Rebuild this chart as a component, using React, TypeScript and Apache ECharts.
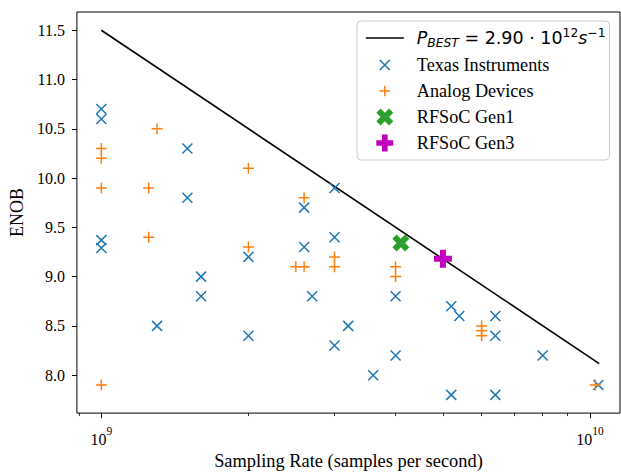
import React, { useEffect, useRef } from 'react';
import * as echarts from 'echarts';

const SERIF = '"Liberation Serif", "Times New Roman", serif';
const MATH = '"DejaVu Sans", sans-serif';

const LINE_NAME = 'P_BEST = 2.90·10^12 s^-1';
const TI_NAME = 'Texas Instruments';
const AD_NAME = 'Analog Devices';
const GEN1_NAME = 'RFSoC Gen1';
const GEN3_NAME = 'RFSoC Gen3';

// Best-performance line end points (sampling rate, ENOB)
const bestLineX = [1e9, 1.044e10];
const bestLineY = [11.5, 8.117];

// Texas Instruments
const tiX = [1e9, 1e9, 1e9, 1e9, 1.3e9, 1.5e9, 1.5e9, 1.6e9, 1.6e9, 2e9, 2e9, 2.6e9, 2.6e9, 2.7e9, 3e9, 3e9, 3e9, 3.2e9, 3.6e9, 4e9, 4e9, 5.2e9, 5.2e9, 5.4e9, 6.4e9, 6.4e9, 6.4e9, 8e9, 1.04e10];
const tiY = [10.7, 10.6, 9.37, 9.29, 8.5, 10.3, 9.8, 9.0, 8.8, 9.2, 8.4, 9.7, 9.3, 8.8, 9.9, 9.4, 8.3, 8.5, 8.0, 8.8, 8.2, 8.7, 7.8, 8.6, 8.6, 8.4, 7.8, 8.2, 7.9];

// Analog Devices
const adX = [1e9, 1e9, 1e9, 1e9, 1.25e9, 1.25e9, 1.3e9, 2e9, 2e9, 2.5e9, 2.6e9, 2.6e9, 3e9, 3e9, 4e9, 4e9, 6e9, 6e9, 6e9, 1.025e10];
const adY = [10.3, 10.2, 9.9, 7.9, 9.9, 9.4, 10.5, 10.1, 9.3, 9.1, 9.8, 9.1, 9.2, 9.1, 9.1, 9.0, 8.5, 8.45, 8.4, 7.9];

// RFSoC
const gen1X = [4.1e9];
const gen1Y = [9.34];
const gen3X = [5.0e9];
const gen3Y = [9.18];

// Axes
const X_MIN = 8.913e8;
const X_MAX = 1.1515e10;
const Y_MIN = 7.615;
const Y_MAX = 11.685;
const xMajorTicks = [1e9, 1e10];
const yTicks = [8.0, 8.5, 9.0, 9.5, 10.0, 10.5, 11.0, 11.5];

const X_PATH = 'path://M0,0L10,10M10,0L0,10';
const PLUS_PATH = 'path://M5,0L5,10M0,5L10,5';
const LINE_LEG_PATH = 'path://M0,-8.5M0,0L38,0M38,8.5';
const X_LEG_PATH = 'path://M-3.5,-3.5M0,0L10,10M10,0L0,10M13.5,13.5';
const PLUS_LEG_PATH = 'path://M-3,-3M5,0L5,10M0,5L10,5M13,13';
const X_FILLED = 'path://M-1,-2L0,-1L1,-2L2,-1L1,0L2,1L1,2L0,1L-1,2L-2,1L-1,0L-2,-1Z';
const P_FILLED = 'path://M-1,-3L1,-3L1,-1L3,-1L3,1L1,1L1,3L-1,3L-1,1L-3,1L-3,-1L-1,-1Z';

const TI_COLOR = '#1f77b4';
const AD_COLOR = '#ff7f0e';
const GEN1_COLOR = '#2ca02c';
const GEN3_COLOR = '#bf00bf';

const zip = (xs: number[], ys: number[]) => xs.map((x, i) => [x, ys[i]]);

export default function App() {
  const ref = useRef<HTMLDivElement>(null);
  useEffect(() => {
    if (!ref.current) return;
    const chart = echarts.init(ref.current, null, { renderer: 'svg' });
    const tickLine = { color: '#000', width: 1 };
    chart.setOption({
      animation: false,
      grid: {
        left: 76, right: 1, top: 12, bottom: 56,
        show: true, borderColor: '#000', borderWidth: 1, backgroundColor: 'transparent',
      },
      xAxis: {
        type: 'log', logBase: 10, min: X_MIN, max: X_MAX,
        name: 'Sampling Rate (samples per second)', nameLocation: 'middle', nameGap: 37,
        nameTextStyle: { fontFamily: SERIF, fontSize: 18.4, color: '#000' },
        axisLine: { show: false },
        axisTick: { show: true, length: 5, lineStyle: tickLine, customValues: xMajorTicks },
        minorTick: { show: true, splitNumber: 9, length: 3, lineStyle: { color: '#000', width: 0.8 } },
        axisLabel: {
          customValues: xMajorTicks, margin: 12,
          formatter: (v: number) => `{b|10}{s|${Math.round(Math.log10(v))}}`,
          rich: {
            b: { fontFamily: SERIF, fontSize: 16, color: '#000', lineHeight: 22, verticalAlign: 'bottom' },
            s: { fontFamily: SERIF, fontSize: 11.5, color: '#000', lineHeight: 12, verticalAlign: 'top' },
          },
        },
        splitLine: { show: false },
        minorSplitLine: { show: false },
      },
      yAxis: {
        type: 'value', min: Y_MIN, max: Y_MAX,
        name: 'ENOB', nameLocation: 'middle', nameGap: 49, nameRotate: 90,
        nameTextStyle: { fontFamily: SERIF, fontSize: 18, color: '#000' },
        axisLine: { show: false },
        axisTick: { show: true, length: 5, lineStyle: tickLine, customValues: yTicks },
        axisLabel: {
          customValues: yTicks, margin: 12,
          formatter: (v: number) => v.toFixed(1),
          fontFamily: SERIF, fontSize: 16, color: '#000',
        },
        splitLine: { show: false },
      },
      legend: {
        orient: 'vertical', left: 357, top: 21,
        padding: [6, 4, 7, 8], itemGap: 6, itemWidth: 38, itemHeight: 17,
        backgroundColor: 'rgba(255,255,255,0.8)', borderColor: '#cccccc', borderWidth: 1, borderRadius: 4,
        selectedMode: false,
        textStyle: {
          fontFamily: SERIF, fontSize: 18.2, color: '#000', lineHeight: 20, padding: [0, 0, 0, 8],
          rich: {
            i: { fontFamily: MATH, fontStyle: 'italic', fontSize: 17.5, lineHeight: 22, color: '#000' },
            m: { fontFamily: MATH, fontSize: 17.5, lineHeight: 22, color: '#000' },
            sub: { fontFamily: MATH, fontStyle: 'italic', fontSize: 12.3, lineHeight: 12, verticalAlign: 'bottom', color: '#000' },
            sup: { fontFamily: MATH, fontSize: 12.3, lineHeight: 12, verticalAlign: 'top', color: '#000' },
          },
        },
        formatter: (name: string) =>
          name === LINE_NAME ? '{i|P}{sub|BEST}{m| = 2.90 · 10}{sup|12}{i|s}{sup|−1}' : name,
        data: [
          { name: LINE_NAME, icon: LINE_LEG_PATH, itemStyle: { color: 'transparent', borderColor: '#000', borderWidth: 1.6 } },
          { name: TI_NAME, icon: X_LEG_PATH, itemStyle: { color: 'transparent', borderColor: TI_COLOR, borderWidth: 1.5 } },
          { name: AD_NAME, icon: PLUS_LEG_PATH, itemStyle: { color: 'transparent', borderColor: AD_COLOR, borderWidth: 1.5 } },
          { name: GEN1_NAME, icon: X_FILLED, itemStyle: { color: GEN1_COLOR } },
          { name: GEN3_NAME, icon: P_FILLED, itemStyle: { color: GEN3_COLOR } },
        ],
      },
      series: [
        {
          name: LINE_NAME, type: 'line', data: zip(bestLineX, bestLineY),
          symbol: 'none', lineStyle: { color: '#000', width: 1.6 }, itemStyle: { color: '#000' },
          silent: true, z: 1,
        },
        {
          name: TI_NAME, type: 'scatter', data: zip(tiX, tiY), symbol: X_PATH, symbolSize: 10,
          itemStyle: { color: 'transparent', borderColor: TI_COLOR, borderWidth: 1.5, opacity: 1 },
          silent: true, z: 2,
        },
        {
          name: AD_NAME, type: 'scatter', data: zip(adX, adY), symbol: PLUS_PATH, symbolSize: 11,
          itemStyle: { color: 'transparent', borderColor: AD_COLOR, borderWidth: 1.5, opacity: 1 },
          silent: true, z: 3,
        },
        {
          name: GEN1_NAME, type: 'scatter', data: zip(gen1X, gen1Y), symbol: X_FILLED, symbolSize: 17,
          itemStyle: { color: GEN1_COLOR, opacity: 1 }, silent: true, z: 4,
        },
        {
          name: GEN3_NAME, type: 'scatter', data: zip(gen3X, gen3Y), symbol: P_FILLED, symbolSize: 18,
          itemStyle: { color: GEN3_COLOR, opacity: 1 }, silent: true, z: 5,
        },
      ],
    });
    return () => chart.dispose();
  }, []);
  return (
    <div
      ref={ref}
      style={{ position: 'absolute', left: 0, top: 0, width: 621, height: 475, background: '#fff' }}
    />
  );
}
